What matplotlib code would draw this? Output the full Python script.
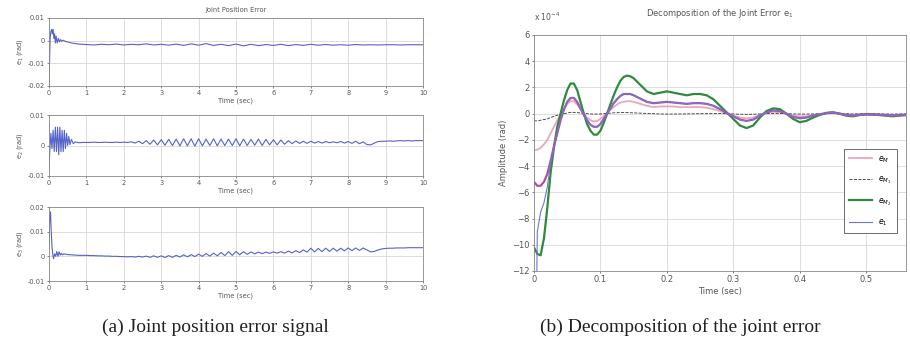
import numpy as np
import matplotlib
matplotlib.use("Agg")
import matplotlib.pyplot as plt

# ---------------- data ----------------
# left: joint position errors, early transient + 0.1 s / 0.2 s grid afterwards
t1_early = [0, 0.01, 0.03, 0.05, 0.07, 0.09, 0.11, 0.13, 0.15, 0.17, 0.19, 0.22,
            0.25, 0.28, 0.31, 0.34, 0.38, 0.42, 0.5, 0.6, 0.7, 0.8, 0.9]
e1_early = [-0.020, -0.012, 0.001, 0.004, 0.005, 0.003, 0.005, 0.001, 0.003, -0.001,
            0.002, -0.001, 0.001, -0.0005, 0.0005, -0.0003, 0.0002, -0.0002, -0.0006,
            -0.0010, -0.0013, -0.0015, -0.0016]
t1_late = np.round(np.arange(1.0, 10.01, 0.2), 2)
e1_late = [-0.0017, -0.0019, -0.0016, -0.0018, -0.0015, -0.0019, -0.0016, -0.0018, -0.0014, -0.0019,
           -0.0016, -0.0020, -0.0015, -0.0021, -0.0014, -0.0020, -0.0013, -0.0021, -0.0016, -0.0022,
           -0.0015, -0.0023, -0.0016, -0.0022, -0.0017, -0.0021, -0.0016, -0.0022, -0.0017, -0.0021,
           -0.0016, -0.0020, -0.0017, -0.0020, -0.0018, -0.0020, -0.0017, -0.0019, -0.0018, -0.0019,
           -0.0018, -0.0018, -0.0019, -0.0018, -0.0018, -0.0018]

t2_early = [0, 0.02, 0.05, 0.08, 0.11, 0.14, 0.17, 0.2, 0.23, 0.26, 0.29, 0.32, 0.35,
            0.38, 0.41, 0.44, 0.47, 0.5, 0.53, 0.56, 0.6, 0.65, 0.7, 0.8, 0.9]
e2_early = [-0.008, -0.002, 0.004, -0.001, 0.005, -0.002, 0.006, -0.002, 0.006, -0.003,
            0.006, -0.002, 0.005, -0.002, 0.005, -0.001, 0.004, 0.000, 0.003, 0.0003,
            0.002, 0.0006, 0.0012, 0.0009, 0.0010]
t_late = np.round(np.arange(1.0, 10.01, 0.1), 2)
e2_late = [0.0010, 0.0010, 0.0011, 0.0010, 0.0010, 0.0011, 0.0010, 0.0010, 0.0011, 0.0010,
           0.0011, 0.0010, 0.0012, 0.0008, 0.0014, 0.0006, 0.0016, 0.0004, 0.0018, 0.0002,
           0.0019, 0.0001, 0.0020, 0.0000, 0.0021, -0.0001, 0.0022, -0.0001, 0.0022, -0.0002,
           0.0022, -0.0001, 0.0021, 0.0000, 0.0022, -0.0001, 0.0021, 0.0000, 0.0021, 0.0000,
           0.0022, -0.0001, 0.0021, 0.0000, 0.0020, 0.0001, 0.0021, 0.0000, 0.0020, 0.0002,
           0.0019, 0.0002, 0.0018, 0.0004, 0.0016, 0.0006, 0.0015, 0.0007, 0.0014, 0.0007,
           0.0014, 0.0008, 0.0013, 0.0008, 0.0013, 0.0009, 0.0012, 0.0009, 0.0013, 0.0008,
           0.0013, 0.0007, 0.0014, 0.0006, 0.0012, 0.0003, 0.0002, 0.0008, 0.0013, 0.0014,
           0.0014, 0.0015, 0.0014, 0.0015, 0.0016, 0.0015, 0.0016, 0.0015, 0.0016, 0.0016, 0.0016]

t3_early = [0, 0.02, 0.04, 0.06, 0.08, 0.1, 0.12, 0.15, 0.18, 0.21, 0.24, 0.27, 0.3,
            0.33, 0.36, 0.4, 0.5, 0.6, 0.7, 0.8, 0.9]
e3_early = [0.004, 0.016, 0.018, 0.010, 0.004, 0.001, -0.001, 0.001, 0.000, 0.002, 0.000,
            0.0018, 0.0005, 0.0012, 0.0006, 0.0010, 0.0007, 0.0006, 0.0005, 0.0004, 0.0004]
e3_late = [0.0004, 0.0003, 0.0003, 0.0002, 0.0002, 0.0001, 0.0001, 0.0000, 0.0000, -0.0001,
           -0.0001, -0.0002, -0.0001, -0.0003, 0.0000, -0.0003, 0.0001, -0.0004, 0.0002, -0.0004,
           0.0002, -0.0005, 0.0003, -0.0004, 0.0004, -0.0003, 0.0006, -0.0002, 0.0007, -0.0001,
           0.0009, 0.0000, 0.0011, 0.0001, 0.0013, 0.0002, 0.0016, 0.0003, 0.0019, 0.0004,
           0.0020, 0.0006, 0.0019, 0.0008, 0.0018, 0.0010, 0.0017, 0.0011, 0.0017, 0.0012,
           0.0018, 0.0013, 0.0019, 0.0013, 0.0021, 0.0014, 0.0023, 0.0015, 0.0026, 0.0017,
           0.0033, 0.0018, 0.0032, 0.0019, 0.0033, 0.0020, 0.0033, 0.0021, 0.0033, 0.0022,
           0.0034, 0.0023, 0.0034, 0.0024, 0.0034, 0.0026, 0.0018, 0.0020, 0.0026, 0.0030,
           0.0032, 0.0033, 0.0033, 0.0034, 0.0034, 0.0034, 0.0035, 0.0035, 0.0035, 0.0035, 0.0035]

# right: decomposition of e1 (x 1e-4 rad)
t_dec = [0, 0.005, 0.01, 0.015, 0.02, 0.025, 0.03, 0.035, 0.04, 0.045, 0.05, 0.055, 0.06,
         0.065, 0.07, 0.075, 0.08, 0.085, 0.09, 0.095, 0.1, 0.105, 0.11, 0.115, 0.12, 0.125,
         0.13, 0.135, 0.14, 0.145, 0.15, 0.16, 0.17, 0.18, 0.19, 0.2, 0.21, 0.22, 0.23, 0.24,
         0.25, 0.26, 0.27, 0.28, 0.29, 0.3, 0.31, 0.32, 0.33, 0.34, 0.35, 0.36, 0.37, 0.38,
         0.39, 0.4, 0.41, 0.42, 0.43, 0.44, 0.45, 0.46, 0.47, 0.48, 0.49, 0.5, 0.52, 0.54, 0.56]
eM = [-2.8, -2.75, -2.6, -2.35, -2.0, -1.5, -1.0, -0.5, -0.1, 0.35, 0.75, 0.95, 0.95,
      0.7, 0.35, 0.0, -0.3, -0.5, -0.6, -0.55, -0.4, -0.2, 0.05, 0.3, 0.5, 0.7,
      0.85, 0.9, 0.95, 0.95, 0.9, 0.75, 0.6, 0.5, 0.55, 0.55, 0.55, 0.5, 0.5, 0.5,
      0.5, 0.45, 0.35, 0.2, 0.0, -0.15, -0.3, -0.35, -0.3, -0.1, 0.05, 0.15, 0.1, 0.0,
      -0.15, -0.2, -0.2, -0.1, -0.05, 0.0, 0.05, 0.0, -0.05, -0.1, -0.05, 0.0, -0.05, -0.1, -0.05]
eM1 = [-0.55, -0.55, -0.5, -0.45, -0.4, -0.3, -0.2, -0.12, -0.05, 0.0, 0.05, 0.1, 0.1,
       0.08, 0.05, 0.02, 0.0, -0.02, -0.03, -0.03, -0.02, 0.0, 0.02, 0.04, 0.06, 0.07,
       0.08, 0.08, 0.08, 0.07, 0.06, 0.04, 0.02, 0.0, -0.02, -0.03, -0.03, -0.02, -0.02, -0.01,
       0.0, 0.0, 0.01, 0.01, 0.0, -0.02, -0.04, -0.05, -0.04, -0.02, 0.0, 0.02, 0.02, 0.0,
       -0.02, -0.03, -0.03, -0.02, -0.01, 0.0, 0.01, 0.0, -0.01, -0.02, -0.02, -0.01, -0.02, -0.03, -0.02]
eM2 = [-10.2, -10.7, -10.8, -9.5, -7.2, -4.5, -2.6, -1.0, 0.0, 1.0, 1.8, 2.3, 2.3,
       1.8, 0.9, 0.0, -0.8, -1.3, -1.6, -1.6, -1.3, -0.7, 0.0, 0.7, 1.4, 2.0,
       2.5, 2.8, 2.9, 2.85, 2.7, 2.2, 1.7, 1.5, 1.6, 1.7, 1.6, 1.5, 1.4, 1.5,
       1.5, 1.4, 1.1, 0.6, 0.1, -0.4, -0.9, -1.1, -0.9, -0.3, 0.2, 0.4, 0.35, 0.0,
       -0.4, -0.65, -0.55, -0.3, -0.1, 0.05, 0.1, 0.0, -0.15, -0.2, -0.1, -0.05, -0.1, -0.2, -0.1]
e1_dec = [-30.0, -9.0, -7.5, -6.8, -5.6, -3.8, -2.6, -1.5, -0.5, 0.3, 0.9, 1.2, 1.2,
          0.9, 0.4, -0.1, -0.5, -0.85, -1.0, -1.0, -0.8, -0.4, 0.0, 0.4, 0.8, 1.1,
          1.35, 1.5, 1.5, 1.5, 1.4, 1.15, 0.9, 0.8, 0.85, 0.9, 0.85, 0.8, 0.75, 0.8,
          0.8, 0.75, 0.6, 0.35, 0.05, -0.2, -0.45, -0.55, -0.45, -0.15, 0.1, 0.25, 0.2, 0.0,
          -0.25, -0.35, -0.3, -0.15, -0.05, 0.05, 0.1, 0.0, -0.1, -0.15, -0.1, -0.05, -0.1, -0.15, -0.1]
eM_mag = [-5.2, -5.5, -5.5, -5.2, -4.6, -3.6, -2.5, -1.5, -0.5, 0.3, 0.9, 1.2, 1.2,
          0.9, 0.4, -0.1, -0.5, -0.85, -1.0, -1.0, -0.8, -0.4, 0.0, 0.4, 0.8, 1.1,
          1.35, 1.5, 1.5, 1.5, 1.4, 1.15, 0.9, 0.8, 0.85, 0.9, 0.85, 0.8, 0.75, 0.8,
          0.8, 0.75, 0.6, 0.35, 0.05, -0.2, -0.45, -0.55, -0.45, -0.15, 0.1, 0.25, 0.2, 0.0,
          -0.25, -0.35, -0.3, -0.15, -0.05, 0.05, 0.1, 0.0, -0.1, -0.15, -0.1, -0.05, -0.1, -0.15, -0.1]

# ---------------- figure ----------------
W, H = 910, 347
fig = plt.figure(figsize=(W / 100, H / 100), dpi=100)
fig.patch.set_facecolor("white")

def box(x0, y0, x1, y1):
    # pixel box -> figure fraction rect
    return [x0 / W, 1 - y1 / H, (x1 - x0) / W, (y1 - y0) / H]

grid_kw = dict(color="#d8d8d8", linewidth=0.6)
blue = "#5563c8"
small = 4.8

def style(ax, fs=small):
    ax.grid(True, **grid_kw)
    ax.set_axisbelow(True)
    ax.tick_params(labelsize=fs, length=1.5, width=0.5, pad=1.5, colors="#555555")
    for s in ax.spines.values():
        s.set_color("#888888")
        s.set_linewidth(0.6)

left_specs = [
    (box(49, 18, 423, 86), t1_early, e1_early, t1_late, e1_late,
     (-0.02, 0.01), [-0.02, -0.01, 0, 0.01], ["-0.02", "-0.01", "0", "0.01"], "e$_1$ (rad)"),
    (box(49, 115, 423, 176), t2_early, e2_early, t_late, e2_late,
     (-0.01, 0.01), [-0.01, 0, 0.01], ["-0.01", "0", "0.01"], "e$_2$ (rad)"),
    (box(49, 207, 423, 281), t3_early, e3_early, t_late, e3_late,
     (-0.01, 0.02), [-0.01, 0, 0.01, 0.02], ["-0.01", "0", "0.01", "0.02"], "e$_3$ (rad)"),
]

for i, (rect, ta, ya, tb, yb, ylim, yt, ytl, ylab) in enumerate(left_specs):
    ax = fig.add_axes(rect)
    tt = list(ta) + list(tb)
    yy = list(ya) + list(yb)
    ax.plot(tt, yy, color=blue, lw=0.8)
    ax.set_xlim(0, 10)
    ax.set_ylim(*ylim)
    ax.set_xticks(range(0, 11))
    ax.set_yticks(yt)
    ax.set_yticklabels(ytl)
    ax.set_xlabel("Time (sec)", fontsize=small, color="#555555", labelpad=1)
    ax.set_ylabel(ylab, fontsize=small, color="#555555", labelpad=2)
    style(ax)
    if i == 0:
        ax.set_title("Joint Position Error", fontsize=small, color="#555555", pad=4)

# right panel
ax = fig.add_axes(box(534, 35, 906, 271))
ax.plot(t_dec, eM, color="#eaa6c0", lw=1.3, label="$e_M$")
ax.plot(t_dec, eM1, color="#333333", lw=0.6, ls="--", label="$e_{M_1}$")
ax.plot(t_dec, eM2, color="#2f8a3e", lw=1.6, label="$e_{M_2}$")
ax.plot(t_dec, eM_mag, color="#b0509a", lw=1.6)
ax.plot(t_dec, e1_dec, color="#6a78d8", lw=0.8, label="$e_1$")
ax.set_xlim(0, 0.56)
ax.set_ylim(-12, 6)
ax.set_xticks([0, 0.1, 0.2, 0.3, 0.4, 0.5])
ax.set_xticklabels(["0", "0.1", "0.2", "0.3", "0.4", "0.5"])
ax.set_yticks(range(-12, 7, 2))
style(ax, 6)
ax.set_xlabel("Time (sec)", fontsize=6, color="#555555", labelpad=2)
ax.set_ylabel("Amplitude (rad)", fontsize=6, color="#555555", labelpad=3)
ax.set_title("Decomposition of the Joint Error e$_1$", fontsize=6, color="#555555", pad=14)
ax.text(0.0, 1.05, r"x 10$^{-4}$", transform=ax.transAxes, fontsize=5.5, color="#555555",
        va="bottom", ha="left")
leg = ax.legend(loc="upper right", bbox_to_anchor=(0.985, 0.534), fontsize=5.5,
                handlelength=3.0, labelspacing=1.3, borderpad=0.7, fancybox=False,
                framealpha=1, edgecolor="#555555")
leg.get_frame().set_linewidth(0.6)

# captions
cap = dict(fontsize=14, family="Liberation Serif", ha="center", va="center", color="#222222")
fig.text(215 / W, 1 - 327 / H, "(a) Joint position error signal", **cap)
fig.text(680 / W, 1 - 327 / H, "(b) Decomposition of the joint error", **cap)

fig.savefig("out.png", dpi=100)
